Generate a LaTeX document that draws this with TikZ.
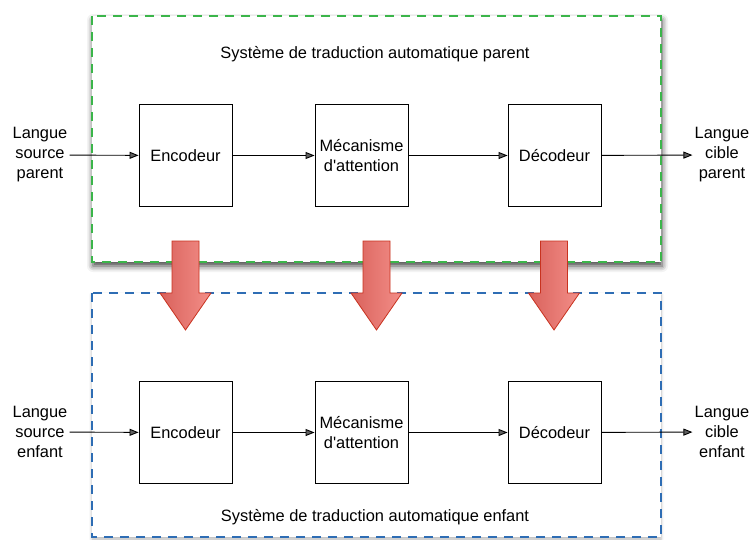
\documentclass[tikz,border=0pt]{standalone}
\usepackage{fontspec}
\setmainfont{Liberation Sans}[Ligatures=TeXOff]
\usetikzlibrary{arrows.meta,shadows.blur}
\definecolor{grn}{HTML}{3BB54A}
\definecolor{blu}{HTML}{2E6DB4}
\definecolor{redL}{HTML}{D9625C}
\definecolor{redR}{HTML}{F38E88}
\definecolor{redB}{HTML}{C8321F}
\tikzset{
  txt/.style={font=\fontsize{16.4}{20}\selectfont, inner sep=2pt, align=center},
  block/.style={txt, draw=black, line width=0.9pt, fill=white, minimum width=93pt, minimum height=102pt},
  flow/.style={-{Triangle[length=9pt,width=7pt]}, line width=0.9pt},
  sysbox/.style={line width=2pt, dash pattern=on 9pt off 7pt, fill=white},
  bigarrow/.style={left color=redL, right color=redR, draw=redB, line width=0.8pt, line join=miter},
}
\begin{document}
\begin{tikzpicture}[x=1pt,y=-1pt]
\useasboundingbox (0,0) rectangle (751,539);
% system boxes
\path[sysbox, draw=blu, blur shadow={shadow xshift=0pt, shadow yshift=-2pt, shadow blur radius=3pt, shadow opacity=30}] (92,293) rectangle (661,537);
\path[sysbox, draw=grn, blur shadow={shadow xshift=1pt, shadow yshift=-4pt, shadow blur radius=6pt, shadow opacity=75}] (92,16) rectangle (661,262);
\node[txt] (tp) at (375,54) {Système de traduction automatique parent};
\node[txt] (tc) at (375,517) {Système de traduction automatique enfant};
% top row
\node[block] (e1) at (185.5,155.5) {Encodeur};
\node[block] (m1) at (361.5,155.5) {Mécanisme\\d'attention};
\node[block] (d1) at (554.5,155.5) {Décodeur};
\node[txt] (in1) at (40,155) {Langue\\source\\parent};
\node[txt] (out1) at (722,155) {Langue\\cible\\parent};
\draw[flow] (in1) -- (e1);
\draw[flow] (e1) -- (m1);
\draw[flow] (m1) -- (d1);
\draw[flow] (d1) -- (out1);
% bottom row
\node[block] (e2) at (185.5,432.5) {Encodeur};
\node[block] (m2) at (361.5,432.5) {Mécanisme\\d'attention};
\node[block] (d2) at (554.5,432.5) {Décodeur};
\node[txt] (in2) at (40,432) {Langue\\source\\enfant};
\node[txt] (out2) at (722,432) {Langue\\cible\\enfant};
\draw[flow] (in2) -- (e2);
\draw[flow] (e2) -- (m2);
\draw[flow] (m2) -- (d2);
\draw[flow] (d2) -- (out2);
% transfer arrows
\foreach \c in {185.5,376.5,554} {
  \path[bigarrow] (\c-13.5,241) -- (\c+13.5,241) -- (\c+13.5,293) -- (\c+25.5,293)
    -- (\c,330) -- (\c-25.5,293) -- (\c-13.5,293) -- cycle;
}
\end{tikzpicture}
\end{document}
